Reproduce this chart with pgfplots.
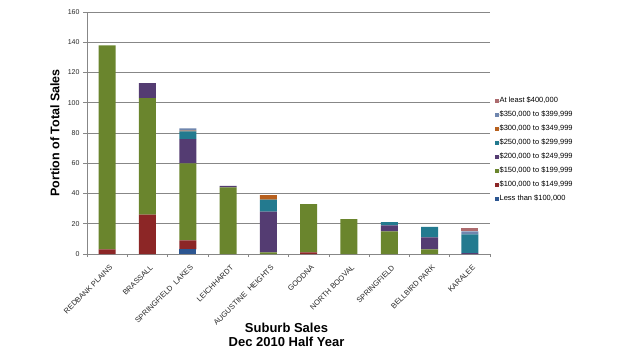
\documentclass[border=0pt]{standalone}
\usepackage{fontspec}
\setmainfont{Liberation Sans}
\usepackage{pgfplots}
\usepackage{pgfplotstable}
\pgfplotsset{compat=1.18}
\definecolor{cLT}{RGB}{44,86,145}
\definecolor{cA}{RGB}{140,38,38}
\definecolor{cB}{RGB}{106,133,45}
\definecolor{cC}{RGB}{84,60,114}
\definecolor{cD}{RGB}{35,122,143}
\definecolor{cE}{RGB}{183,96,30}
\definecolor{cF}{RGB}{111,134,174}
\definecolor{cG}{RGB}{172,107,110}
\definecolor{axgray}{RGB}{135,135,135}
\pgfplotstableread{
x lt r100 r150 r200 r250 r300 r350 ge400
0 0 3 135 0 0 0 0 0
1 0 26 77 10 0 0 0 0
2 3 6 51 16 5 0.5 1.5 0
3 0 0 44 1 0 0 0 0
4 0 0 1 27 8 3 0 0
5 0 1 32 0 0 0 0 0
6 0 0 23 0 0 0 0 0
7 0 0 15 4 2 0 0 0
8 0 0 3 8 7 0 0 0
9 0 0 0 0.5 12.5 0 2 2
}\data
\begin{document}
\begin{tikzpicture}
\path[use as bounding box] (-87pt,-97pt) rectangle (544pt,254pt);
\begin{axis}[
  at={(0pt,0pt)}, anchor=south west,
  scale only axis, width=403pt, height=242pt,
  xmin=-0.5, xmax=9.5, ymin=0, ymax=160,
  ybar stacked, bar width=17pt,
  axis x line*=bottom, axis y line*=left,
  axis line style={draw=axgray, line width=0.8pt, -},
  tick align=outside,
  xtick={0,...,9},
  xticklabels={REDBANK PLAINS,BRASSALL,{SPRINGFIELD\ \ LAKES},LEICHHARDT,AUGUSTINE\ \ HEIGHTS,GOODNA,NORTH BOOVAL,SPRINGFIELD,BELLBIRD PARK,KARALEE},
  major x tick style={draw=none},
  minor xtick={-0.5,0.5,...,9.5},
  minor x tick style={draw=axgray, line width=0.6pt},
  minor tick length=3pt,
  ytick={0,20,...,160},
  major tick length=4pt,
  y tick style={draw=axgray, line width=0.6pt},
  ymajorgrids,
  grid style={draw=axgray, line width=0.8pt},
  /pgf/number format/assume math mode=true,
  yticklabel style={font=\fontsize{7}{8}\selectfont, text=black!85},
  xticklabel style={rotate=45, anchor=north east, inner sep=0pt, font=\fontsize{7.5}{8}\selectfont, text=black!85, yshift=-6pt, xshift=-3pt},
  ylabel={Portion of Total Sales},
  every axis y label/.style={at={(axis description cs:-0.0794,0.5)}, rotate=90, anchor=center, font=\bfseries\fontsize{12.5}{14}\selectfont},
  reverse legend,
  legend style={draw=none, fill=none, at={(axis description cs:1.012,0.650)}, anchor=north west,
    font=\fontsize{7.5}{8}\selectfont, row sep=6.0pt, inner sep=0pt,
    nodes={inner sep=0.6pt, text height=5.3pt, text depth=1.5pt}},
  legend cell align=left,
  legend image code/.code={\fill[#1] (0pt,-2pt) rectangle (4pt,2pt);},
]
\addplot[fill=cLT, draw=none] table[x=x,y=lt] {\data};
\addlegendentry{Less than \$100,000}
\addplot[fill=cA, draw=none] table[x=x,y=r100] {\data};
\addlegendentry{\$100,000 to \$149,999}
\addplot[fill=cB, draw=none] table[x=x,y=r150] {\data};
\addlegendentry{\$150,000 to \$199,999}
\addplot[fill=cC, draw=none] table[x=x,y=r200] {\data};
\addlegendentry{\$200,000 to \$249,999}
\addplot[fill=cD, draw=none] table[x=x,y=r250] {\data};
\addlegendentry{\$250,000 to \$299,999}
\addplot[fill=cE, draw=none] table[x=x,y=r300] {\data};
\addlegendentry{\$300,000 to \$349,999}
\addplot[fill=cF, draw=none] table[x=x,y=r350] {\data};
\addlegendentry{\$350,000 to \$399,999}
\addplot[fill=cG, draw=none] table[x=x,y=ge400] {\data};
\addlegendentry{At least \$400,000}
\end{axis}
\node[font=\bfseries\fontsize{13}{14}\selectfont, align=center] at (199.5pt,-80.7pt) {Suburb Sales\\Dec 2010 Half Year};
\end{tikzpicture}
\end{document}
